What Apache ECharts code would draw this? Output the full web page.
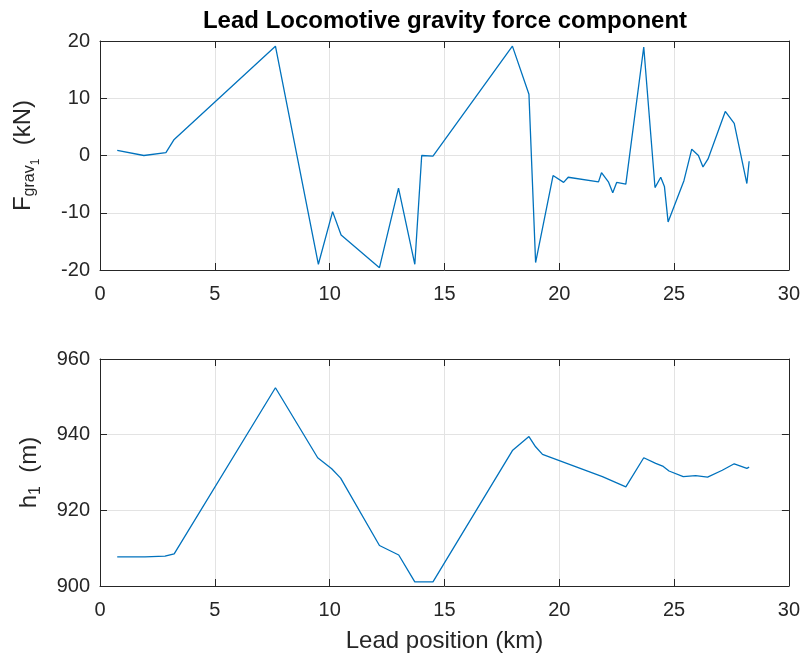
<!DOCTYPE html>
<html><head><meta charset="utf-8">
<script src="https://cdn.jsdelivr.net/npm/echarts@6/dist/echarts.min.js"></script>
<style>html,body{margin:0;padding:0;background:#fff}#c{width:803px;height:655px}</style>
</head><body><div id="c"></div>
<script>
// Lead position (km) and gravity force (kN)
const forceX = [0.75, 1.91, 2.87, 3.23, 7.64, 9.51, 10.13, 10.5, 12.17, 13.0, 13.71, 14.01, 14.5, 17.96, 18.68, 18.97, 19.73, 20.19, 20.39, 21.71, 21.84, 22.14, 22.33, 22.5, 22.9, 23.68, 24.17, 24.42, 24.58, 24.74, 25.43, 25.77, 26.06, 26.26, 26.48, 27.23, 27.62, 28.17, 28.27];
const forceY = [0.9, 0.0, 0.5, 2.8, 19.1, -19.0, -9.8, -13.9, -19.6, -5.7, -19.0, 0.0, -0.1, 19.1, 10.7, -18.7, -3.5, -4.7, -3.8, -4.6, -3.0, -4.6, -6.5, -4.7, -5.0, 18.95, -5.6, -3.8, -5.4, -11.6, -4.4, 1.1, 0.0, -2.0, -0.6, 7.7, 5.6, -4.9, -1.0];
// Lead position (km) and height (m)
const heightX = [0.75, 1.96, 2.83, 3.23, 7.64, 9.48, 10.09, 10.48, 12.17, 13.01, 13.71, 14.5, 17.96, 18.68, 18.97, 19.27, 21.88, 22.9, 23.68, 24.2, 24.53, 24.78, 25.4, 25.94, 26.46, 27.1, 27.62, 28.17, 28.27];
const heightY = [907.7, 907.7, 907.9, 908.5, 952.4, 933.9, 931.0, 928.5, 910.7, 908.2, 901.1, 901.1, 935.8, 939.5, 936.8, 934.8, 928.9, 926.2, 933.9, 932.4, 931.6, 930.4, 928.9, 929.2, 928.8, 930.6, 932.3, 931.1, 931.4];
const xTicks = [0, 5, 10, 15, 20, 25, 30];
const forceTicks = [-20, -10, 0, 10, 20];
const heightTicks = [900, 920, 940, 960];
const titleText = 'Lead Locomotive gravity force component';
const xLabel = 'Lead position (km)';

const FF = 'Liberation Sans, Arial, Helvetica, sans-serif';
const AX = '#262626';
const GRID = '#e3e3e3';

function xAx(g, pos, labels, name) {
  return {
    type: 'value', gridIndex: g, position: pos,
    min: xTicks[0], max: xTicks[xTicks.length - 1], interval: xTicks[1] - xTicks[0],
    axisLine: { show: true, onZero: false, lineStyle: { color: AX, width: 1 } },
    axisTick: { show: true, inside: true, length: 7, lineStyle: { color: AX } },
    axisLabel: { show: labels, color: AX, fontSize: 20, fontFamily: FF, margin: 14 },
    splitLine: { show: labels, lineStyle: { color: GRID, width: 1 } },
    name: name || '', nameLocation: 'middle', nameGap: 43,
    nameTextStyle: { color: AX, fontSize: 24, fontFamily: FF }
  };
}
function yAx(g, pos, labels, ticks, name, gap) {
  return {
    type: 'value', gridIndex: g, position: pos,
    min: ticks[0], max: ticks[ticks.length - 1], interval: ticks[1] - ticks[0],
    axisLine: { show: true, onZero: false, lineStyle: { color: AX, width: 1 } },
    axisTick: { show: true, inside: true, length: 7, lineStyle: { color: AX } },
    axisLabel: { show: labels, color: AX, fontSize: 20, fontFamily: FF, margin: 10 },
    splitLine: { show: labels, lineStyle: { color: GRID, width: 1 } },
    name: name || '', nameLocation: 'middle', nameRotate: 90, nameGap: gap || 50,
    nameTextStyle: {
      color: AX, fontSize: 24, fontFamily: FF,
      rich: {
        m: { fontSize: 24, fontFamily: FF, color: AX },
        s: { fontSize: 16, fontFamily: FF, color: AX, padding: [13, 0, 0, 0] },
        ss: { fontSize: 12, fontFamily: FF, color: AX, padding: [26, 0, 0, 0] }
      }
    }
  };
}

const chart = echarts.init(document.getElementById('c'), null, { renderer: 'canvas' });
chart.setOption({
  animation: false,
  backgroundColor: '#fff',
  grid: [
    { left: 100, right: 13, top: 41, height: 229 },
    { left: 100, right: 13, top: 359, height: 227 }
  ],
  xAxis: [
    xAx(0, 'bottom', true),
    xAx(0, 'top', false),
    xAx(1, 'bottom', true, xLabel),
    xAx(1, 'top', false)
  ],
  yAxis: [
    yAx(0, 'left', true, forceTicks, '{m|F}{s|grav}{ss|1}{m|  (kN)}', 58),
    yAx(0, 'right', false, forceTicks),
    yAx(1, 'left', true, heightTicks, '{m|h}{s|1}{m|  (m)}', 56),
    yAx(1, 'right', false, heightTicks)
  ],
  graphic: [{
    type: 'text', x: 445, y: 21,
    style: { text: titleText, fill: '#000', fontSize: 24, fontWeight: 'bold', fontFamily: FF, align: 'center', verticalAlign: 'middle' }
  }],
  series: [
    {
      type: 'line', xAxisIndex: 0, yAxisIndex: 0, showSymbol: false, symbol: 'none',
      lineStyle: { color: '#0072BD', width: 1.3 },
      data: forceX.map((x, i) => [x, forceY[i]])
    },
    {
      type: 'line', xAxisIndex: 2, yAxisIndex: 2, showSymbol: false, symbol: 'none',
      lineStyle: { color: '#0072BD', width: 1.3 },
      data: heightX.map((x, i) => [x, heightY[i]])
    }
  ]
});
</script>
</body></html>
